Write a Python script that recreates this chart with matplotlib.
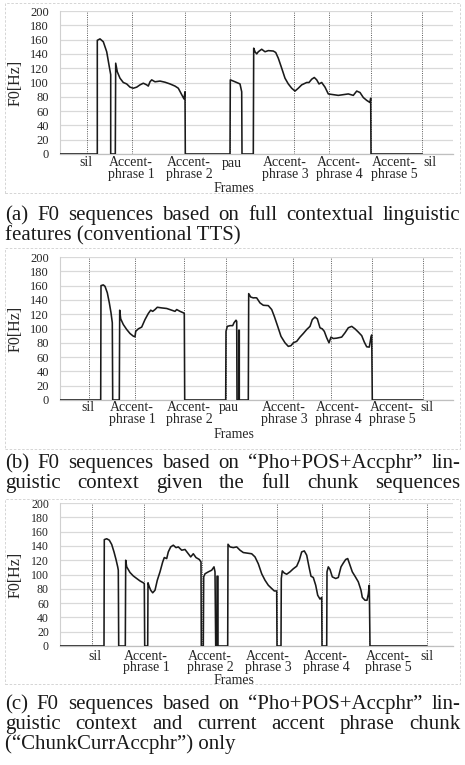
import matplotlib
matplotlib.use("Agg")
import matplotlib.pyplot as plt
from matplotlib.transforms import blended_transform_factory
from matplotlib.patches import Rectangle

plt.rcParams['font.family'] = ['Liberation Serif', 'DejaVu Serif']

W, H = 465, 765

# ---------------- data ----------------
yticks = list(range(0, 201, 20))
ylabel_text = "F0[Hz]"
xlabel_text = "Frames"

# panel (a): conventional TTS
a_frames = [0, 37.3, 37.3, 40, 43.3, 46.7, 49.3, 50.7, 50.7, 55.3,
            55.7, 57.3, 60, 63.3, 66.7, 70, 73.3, 76.7, 80, 83.3,
            86.7, 88.3, 90, 91.7, 95, 100, 105, 110, 115, 118.3,
            121.7, 124, 125, 125.3, 170, 170.3, 173.3, 176.7, 180, 181.7,
            182, 193.3, 193.7, 195, 196.7, 198.3, 201.7, 205, 208.3, 213.3,
            215.7, 218.3, 221.7, 225, 228.3, 231.7, 235, 238.3, 241.7, 246.7,
            249, 251.7, 254.3, 256.7, 259, 261.7, 265, 268.3, 273.3, 278.3,
            283.3, 288.3, 293.3, 296.7, 300, 303.3, 306.7, 310, 310.7, 311,
            362]
a_f0 = [0, 0, 159, 161, 157, 143, 122, 111, 0, 0,
        127, 115, 106, 100, 98, 93.5, 92, 93.5, 96.7, 99,
        96.7, 95, 101, 103.7, 101, 102, 100.4, 98, 95, 92,
        83, 77, 87, 0, 0, 103.7, 102, 100, 98, 87,
        0, 0, 148, 143, 140, 143, 146.5, 143, 144.6, 144,
        142, 134, 120, 106, 98, 92, 88, 92, 96.7, 100,
        100, 104.6, 107, 103.7, 98, 100, 93.5, 84, 83, 82,
        83, 84, 82, 88, 86, 79, 75, 72, 78, 0,
        0]
a_bounds = [27, 72, 125, 170, 234, 269, 311, 362]
a_label_pos = [26, 71, 129, 172, 225, 279, 334, 370]
a_labels = ["sil", "Accent-\nphrase 1", "Accent-\nphrase 2", "pau",
            "Accent-\nphrase 3", "Accent-\nphrase 4", "Accent-\nphrase 5", "sil"]

# panel (b): Pho+POS+Accphr, full chunk sequences
b_frames = [0, 40.7, 41, 43.3, 45, 47.3, 49.3, 51, 52.3, 52.7,
            59.3, 59.7, 60.7, 63.3, 66.7, 70, 73.3, 75, 75.7, 78.3,
            81.7, 85, 88.3, 90.7, 92.7, 95, 97.3, 101.7, 106.7, 111.7,
            115, 116.7, 120, 123.3, 124.3, 124.7, 165.7, 166, 167.3, 170,
            172.7, 174, 176, 176.7, 177, 178.7, 178.7, 179.3, 179.3, 188.3,
            188.7, 190.7, 193.3, 195, 196.7, 200, 203.3, 208.3, 211.7, 214.3,
            217.7, 221, 225, 228.3, 231, 233.3, 236.7, 240, 243.3, 246.7,
            250, 252.3, 255, 257.3, 260, 262.3, 264.3, 266.7, 269, 271,
            273.3, 276.7, 281.7, 285, 288.3, 291.7, 295, 298.3, 301.7, 304.3,
            306.7, 309.3, 311, 311.7, 312.3, 362.7]
b_f0 = [0, 0, 160, 161, 159, 150, 136, 122, 108, 0,
        0, 125.6, 113.5, 105.6, 98.6, 93, 89.3, 88.4, 96, 99.5,
        102, 112.5, 121, 125.6, 124, 126.5, 129.7, 128.8, 128, 125.6,
        124, 126.5, 124, 122, 121, 0, 0, 96, 103, 104,
        104, 108, 111.6, 110, 0, 0, 97.6, 97.6, 0, 0,
        148.8, 144, 142.8, 143, 142.8, 135.8, 132.5, 132, 126.5, 117,
        103, 89, 80, 75, 76, 80, 82, 88, 93, 98.6,
        103, 112.5, 116, 113.5, 101, 99.5, 96, 87, 80, 88,
        86, 86.5, 88, 94, 101, 103, 99.5, 95, 90, 81,
        74.4, 74, 88, 91, 0, 0]
b_bounds = [29.3, 75, 124, 166, 232.7, 271, 311.7, 362.7]
b_label_pos = [28, 72, 129, 169, 224, 278, 332, 367]
b_labels = ["sil", "Accent-\nphrase 1", "Accent-\nphrase 2", "pau",
            "Accent-\nphrase 3", "Accent-\nphrase 4", "Accent-\nphrase 5", "sil"]

# panel (c): Pho+POS+Accphr, current accent phrase chunk only
c_frames = [0, 44, 44.3, 46.7, 49.3, 51.7, 54, 56, 57.7, 58.3,
            58.7, 65.3, 65.7, 66.7, 70, 73.3, 76.7, 80, 83.3, 84.3,
            84.7, 87.7, 88, 89.3, 90.7, 92.7, 95, 97.3, 100, 102.7,
            104.3, 106.7, 108.3, 110.7, 113.3, 116, 118.3, 121.7, 125, 128.3,
            130.7, 133.3, 136, 139.3, 141, 141.3, 143.3, 143.7, 145, 148.3,
            151.7, 154, 155, 155.7, 157, 157, 158, 158, 167.7, 168,
            170, 173.3, 176.7, 180, 183.3, 186.7, 191.7, 195, 198.3, 201.7,
            205, 208.3, 211.7, 214.3, 216.7, 217, 221, 221.3, 222.3, 224.3,
            226.7, 230, 233.3, 236.7, 239.3, 241.7, 244.3, 246.7, 249, 251,
            253.3, 255.7, 257.7, 260, 261.7, 262, 266.7, 267, 268.3, 270,
            272.3, 275.7, 278.3, 281, 283.3, 285.7, 287.7, 290, 292.3, 295,
            298.3, 301, 302.3, 305, 307, 308.3, 309.3, 310, 366.7]
c_f0 = [0, 0, 148.8, 150, 148, 142, 131.6, 121, 110.7, 106,
        0, 0, 120, 110.7, 102.8, 98, 94.4, 91, 88.4, 87.4,
        0, 0, 88.4, 82.8, 78, 74.4, 78, 92, 103.7, 117.6,
        123.7, 122.3, 131.6, 138.6, 141, 137.6, 138.6, 134, 135, 129,
        124.6, 129, 123.7, 121, 117.6, 0, 0, 96.7, 101, 103.7,
        106, 110.7, 103.7, 0, 0, 97.6, 97.6, 0, 0, 142.3,
        138.6, 137.6, 138.6, 134, 130.7, 130, 129, 124.6, 115, 101,
        92, 85, 80.4, 77, 77, 0, 0, 94.4, 105, 102,
        100.4, 103.7, 108, 111.6, 120, 131.6, 133, 127, 110.7, 97.6,
        95.8, 85, 71, 65.6, 68, 0, 0, 103.7, 110.7, 107,
        96.7, 94.4, 95.8, 110.7, 116, 121, 122.3, 113, 103.7, 97.6,
        89.7, 78, 68, 64, 64, 72.5, 85, 0, 0]
c_bounds = [32.3, 84, 141.7, 216.7, 261.7, 309.3, 366.7]
c_label_pos = [35, 86, 150, 208, 266, 328, 367]
c_labels = ["sil", "Accent-\nphrase 1", "Accent-\nphrase 2", "Accent-\nphrase 3",
            "Accent-\nphrase 4", "Accent-\nphrase 5", "sil"]

cap_a = ["(a) F0 sequences based on full contextual linguistic",
         "features (conventional TTS)"]
cap_b = ["(b) F0 sequences based on \u201cPho+POS+Accphr\u201d lin-",
         "guistic context given the full chunk sequences"]
cap_c = ["(c) F0 sequences based on \u201cPho+POS+Accphr\u201d lin-",
         "guistic context and current accent phrase chunk",
         "(\u201cChunkCurrAccphr\u201d) only"]

# ---------------- drawing ----------------
fig = plt.figure(figsize=(W / 100, H / 100), dpi=100)
fig.patch.set_facecolor('white')
renderer = fig.canvas.get_renderer()

TXT = '#262626'


def panel(top_px, frames, f0, bounds, label_pos, labels, tick_fs, lab_top, frames_top):
    ax = fig.add_axes([60 / W, 1 - (top_px + 143) / H, 393 / W, 143 / H])
    ax.set_xlim(0, 393)
    ax.set_ylim(0, 200)
    ax.set_yticks(yticks)
    ax.set_xticks([])
    ax.grid(axis='y', color='#d9d9d9', lw=0.9)
    ax.set_axisbelow(True)
    for s in ['top', 'right']:
        ax.spines[s].set_visible(False)
    ax.spines['left'].set_color('#d0d0d0')
    ax.spines['left'].set_linewidth(0.8)
    ax.spines['bottom'].set_color('#bfbfbf')
    ax.spines['bottom'].set_linewidth(0.9)
    ax.tick_params(axis='y', length=0, pad=8, labelsize=tick_fs, labelcolor=TXT)
    for b in bounds:
        ax.axvline(b, color='#5a5a5a', lw=0.7, ls=(0, (1, 1.3)), zorder=1)
    ax.plot(frames, f0, color='#1a1a1a', lw=1.15, zorder=3)
    trans = blended_transform_factory(ax.transData, ax.transAxes)
    for p, lab in zip(label_pos, labels):
        ax.text(p, -lab_top / 143, lab, transform=trans, ha='center', va='top',
                fontsize=10, color=TXT, linespacing=0.88, multialignment='center')
    ax.text(174, -frames_top / 143, xlabel_text, transform=trans, ha='center',
            va='top', fontsize=10, color=TXT)
    ax.set_ylabel(ylabel_text, fontsize=11.5, color=TXT)
    ax.yaxis.set_label_coords(-36 / 393, 0.5)
    return ax


def box(top, bottom, left=5, right=459.5):
    fig.patches.append(Rectangle((left / W, 1 - bottom / H), (right - left) / W,
                                 (bottom - top) / H, transform=fig.transFigure,
                                 fill=False, edgecolor='#cfcfcf', lw=0.6,
                                 ls=(0, (3, 2))))


def caption(lines, baselines, justify, fs=15, x0=5, x1=460):
    for text, yb, just in zip(lines, baselines, justify):
        yf = 1 - yb / H
        if not just:
            fig.text(x0 / W, yf, text, fontsize=fs, va='baseline', ha='left', color='#1a1a1a')
            continue
        words = text.split(' ')
        objs = [fig.text(0, yf, w, fontsize=fs, va='baseline', ha='left', color='#1a1a1a')
                for w in words]
        widths = [o.get_window_extent(renderer).width for o in objs]
        gap = (x1 - x0 - sum(widths)) / (len(words) - 1)
        x = x0
        for o, w in zip(objs, widths):
            o.set_x(x / W)
            x += w + gap


panel(11, a_frames, a_f0, a_bounds, a_label_pos, a_labels, 9, 2.5, 27.5)
panel(257, b_frames, b_f0, b_bounds, b_label_pos, b_labels, 9, 1.0, 27.5)
panel(503, c_frames, c_f0, c_bounds, c_label_pos, c_labels, 8.6, 3.5, 28.5)

box(3, 193)
box(248, 449)
box(499, 684)

caption(cap_a, [220, 240], [True, False])
caption(cap_b, [468, 488], [True, True])
caption(cap_c, [709, 729, 749], [True, True, False])

fig.savefig('out.png', dpi=100, facecolor='white')
